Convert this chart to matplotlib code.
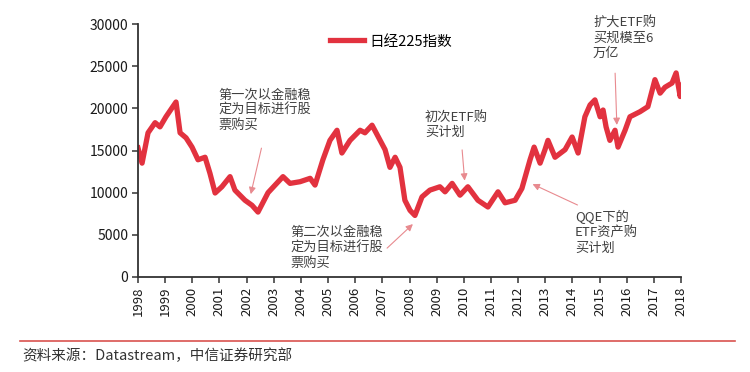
import matplotlib
matplotlib.use("Agg")
import matplotlib.pyplot as plt
from matplotlib.lines import Line2D

plt.rcParams['font.family'] = ['Noto Sans CJK SC', 'DejaVu Sans']

# Nikkei 225, values (year, index level)
years = [1998.00, 1998.15, 1998.37, 1998.63, 1998.81, 1999.03, 1999.40, 1999.55,
         1999.77, 1999.99, 2000.21, 2000.47, 2000.65, 2000.84, 2001.09, 2001.39,
         2001.57, 2001.94, 2002.20, 2002.42, 2002.79, 2003.05, 2003.34, 2003.60,
         2003.97, 2004.34, 2004.52, 2004.81, 2005.07, 2005.33, 2005.51, 2005.81,
         2006.18, 2006.36, 2006.62, 2006.77, 2007.10, 2007.28, 2007.47, 2007.65,
         2007.83, 2008.02, 2008.20, 2008.46, 2008.75, 2009.12, 2009.31, 2009.57,
         2009.86, 2010.15, 2010.52, 2010.89, 2011.26, 2011.52, 2011.89, 2012.14,
         2012.44, 2012.59, 2012.81, 2012.99, 2013.10, 2013.36, 2013.73, 2013.99,
         2014.21, 2014.46, 2014.65, 2014.83, 2015.02, 2015.13, 2015.24, 2015.38,
         2015.57, 2015.68, 2015.94, 2016.12, 2016.49, 2016.78, 2017.04, 2017.23,
         2017.41, 2017.67, 2017.82, 2017.97, 2018.04]
nikkei = [15300, 13500, 17100, 18300, 17800, 19000, 20750, 17100,
          16500, 15400, 13900, 14200, 12300, 9960, 10700, 11900,
          10300, 9100, 8500, 7700, 10000, 10900, 11900, 11100,
          11300, 11700, 10900, 13900, 16200, 17400, 14700, 16200,
          17400, 17100, 18000, 17100, 15100, 13000, 14200, 13000,
          9100, 7900, 7300, 9500, 10300, 10700, 10100, 11100,
          9700, 10700, 9100, 8300, 10100, 8800, 9100, 10500,
          13900, 15400, 13500, 15100, 16200, 14200, 15100, 16600,
          14700, 19000, 20400, 21000, 19000, 19800, 17800, 16200,
          17400, 15400, 17400, 19000, 19600, 20200, 23400, 21800,
          22500, 23000, 24200, 21400, 22700]

year_ticks = list(range(1998, 2019))
y_ticks = [0, 5000, 10000, 15000, 20000, 25000, 30000]

notes = [
    ("第一次以金融稳\n定为目标进行股\n票购买", (2000.95, 22300), (2002.57, 15600), (2002.13, 9500)),
    ("第二次以金融稳\n定为目标进行股\n票购买", (2003.6, 6000), (2007.1, 3200), (2008.2, 6500)),
    ("初次ETF购\n买计划", (2008.57, 19700), (2009.93, 15400), (2010.04, 11100)),
    ("扩大ETF购\n买规模至6\n万亿", (2014.76, 30900), (2015.57, 24500), (2015.64, 17700)),
    ("QQE下的\nETF资产购\n买计划", (2014.1, 7900), (2014.28, 8400), (2012.44, 11150)),
]

red = '#e2323f'
fig = plt.figure(figsize=(7.5, 3.72), dpi=100)
ax = fig.add_axes([138/750, 95/372, 543/750, 253/372])

ax.plot(years, nikkei, color=red, lw=3.8, solid_joinstyle='round')

ax.set_xlim(1998, 2018)
ax.set_ylim(0, 30000)
ax.set_xticks(year_ticks)
ax.set_xticklabels([str(y) for y in year_ticks], rotation=90, fontsize=9.5,
                   color='#1a1a1a', fontweight='medium')
ax.set_yticks(y_ticks)
ax.set_yticklabels([str(v) for v in y_ticks], fontsize=10, color='#1a1a1a',
                   fontweight='medium')
for s in ['top', 'right']:
    ax.spines[s].set_visible(False)
for s in ['left', 'bottom']:
    ax.spines[s].set_color('#333333')
    ax.spines[s].set_linewidth(1.3)
ax.tick_params(axis='both', direction='out', length=4, width=1.1, color='#333333', pad=3)

for txt, tpos, tail, head in notes:
    ax.text(tpos[0], tpos[1], txt, fontsize=9.5, color='#404040', va='top', ha='left',
            linespacing=1.2)
    ax.annotate('', xy=head, xytext=tail,
                arrowprops=dict(arrowstyle='-|>', color='#e88a8f', lw=0.8,
                                mutation_scale=10))

h = Line2D([], [], color=red, lw=3.8)
ax.legend([h], ['日经225指数'], loc='upper left', bbox_to_anchor=(0.33, 1.01),
          frameon=False, fontsize=10.5, handlelength=2.3, handletextpad=0.4,
          prop={'weight': 'medium', 'size': 10.5})

fig.add_artist(Line2D([20/750, 735/750], [1 - 341/372, 1 - 341/372], color='#d9534f', lw=1.2))
fig.text(22/750, 1 - 356/372, '资料来源：Datastream，中信证券研究部', fontsize=10.5,
         color='#333333', va='center', ha='left')

fig.savefig('out.png', dpi=100)
